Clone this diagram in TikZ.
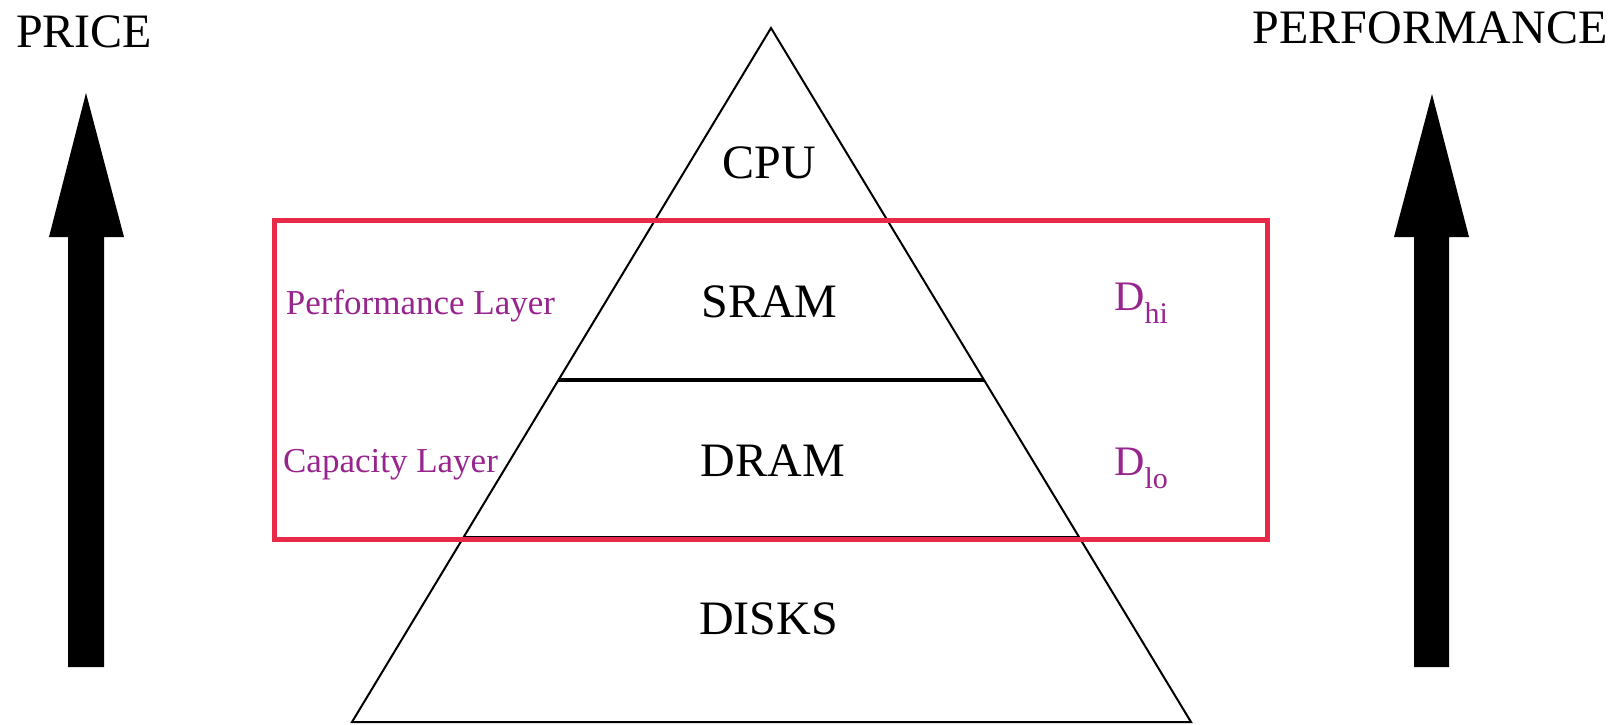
\documentclass[tikz,border=0pt]{standalone}
\usepackage{fontspec}
\setmainfont{Liberation Serif}
\usetikzlibrary{calc}
\definecolor{boxred}{RGB}{232,41,72}
\definecolor{labpurple}{RGB}{152,36,142}
\tikzset{
  edge/.style={draw=black,line width=2pt},
  thickrule/.style={draw=black,line width=4.5pt},
  redbox/.style={draw=boxred,line width=4.5pt},
  bigtext/.style={anchor=base,inner sep=0pt,font=\fontsize{48}{48}\selectfont},
  purptext/.style={anchor=base,inner sep=0pt,text=labpurple,font=\fontsize{35}{35}\selectfont},
  dtext/.style={anchor=base west,inner sep=0pt,text=labpurple,font=\fontsize{42}{42}\selectfont},
  bigarrow/.style={fill=black,draw=none}
}
\begin{document}
\begin{tikzpicture}[x=1pt,y=-1pt]
\useasboundingbox (0,0) rectangle (1615,724);
% pyramid corners
\coordinate (A) at (771,28);
\coordinate (BL) at (352,722);
\coordinate (BR) at (1191,722);
\coordinate (L1) at ($(A)!0.2767!(BL)$);
\coordinate (R1) at ($(A)!0.2767!(BR)$);
\coordinate (L2) at ($(A)!0.5072!(BL)$);
\coordinate (R2) at ($(A)!0.5072!(BR)$);
\coordinate (L3) at ($(A)!0.7334!(BL)$);
\coordinate (R3) at ($(A)!0.7334!(BR)$);
% thin separators
\draw[edge] (L1) -- (R1);
\draw[edge] (L3) -- (R3);
% triangle
\draw[edge,line join=miter] (A) -- (BL) -- (BR) -- cycle;
% thick separator
\draw[thickrule] (L2) -- (R2);
% red box
\draw[redbox] (274.5,220.5) rectangle (1267.5,539.5);
% arrows
\fill[bigarrow] (86,93) -- (124,237) -- (104,237) -- (104,667) -- (68,667) -- (68,237) -- (49,237) -- cycle;
\fill[bigarrow] (1432,94) -- (1469,237) -- (1449,237) -- (1449,667) -- (1414,667) -- (1414,237) -- (1394,237) -- cycle;
% texts
\node[bigtext,anchor=base west] (price) at (16,47) {PRICE};
\node[bigtext] (perf) at (1430,43) {PERFORMANCE};
\node[bigtext] (cpu) at (769,178) {CPU};
\node[bigtext] (sram) at (769.5,317) {SRAM};
\node[bigtext] (dram) at (773,476) {DRAM};
\node[bigtext] (disks) at (768.5,634) {DISKS};
\node[purptext] (perflayer) at (420.5,314) {Performance Layer};
\node[purptext] (caplayer) at (390.5,472) {Capacity Layer};
\node[dtext] (dhi) at (1114,310) {D\raisebox{-13pt}{\fontsize{30}{30}\selectfont hi}};
\node[dtext] (dlo) at (1114,475) {D\raisebox{-13pt}{\fontsize{30}{30}\selectfont lo}};
\end{tikzpicture}
\end{document}
